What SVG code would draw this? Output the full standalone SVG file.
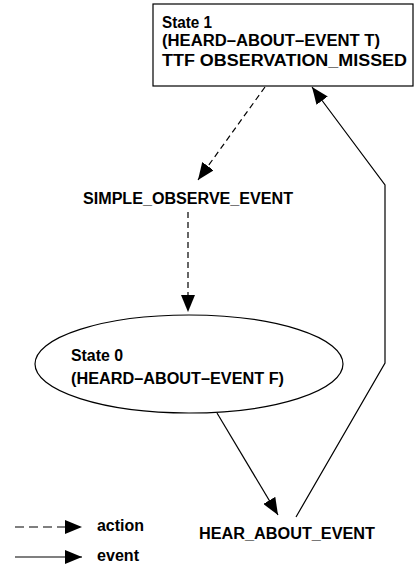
<svg xmlns="http://www.w3.org/2000/svg" width="415" height="566" viewBox="0 0 415 566">
<style>
text{font-family:"Liberation Sans",Arial,sans-serif;font-weight:bold;font-size:16px;fill:#000}
.ln{fill:none;stroke:#000;stroke-width:1.2}
.dash{stroke-dasharray:6,4}
.node{fill:#fff;stroke:#000;stroke-width:1.2}
</style>
<defs>
<marker id="ah" markerUnits="userSpaceOnUse" markerWidth="18" markerHeight="14" refX="17" refY="7" orient="auto">
<path d="M0,0 L17,7 L0,14 Z" fill="#000"/>
</marker>
</defs>
<g id="connectors">
<line class="ln dash" x1="265" y1="87" x2="198" y2="180" marker-end="url(#ah)"/>
<line class="ln dash" x1="188" y1="212" x2="188" y2="312" marker-end="url(#ah)"/>
<line class="ln" x1="217" y1="413" x2="278" y2="515" marker-end="url(#ah)"/>
<polyline class="ln" points="296,517 385,363 385,185 312,87" marker-end="url(#ah)"/>
</g>
<g id="state1">
<rect class="node" x="153" y="4" width="260" height="82"/>
<text x="162" y="28" textLength="50" lengthAdjust="spacingAndGlyphs">State 1</text>
<text x="162" y="46" textLength="218" lengthAdjust="spacingAndGlyphs">(HEARD–ABOUT–EVENT T)</text>
<text x="162" y="66" textLength="245" lengthAdjust="spacingAndGlyphs">TTF OBSERVATION_MISSED</text>
</g>
<g id="simple_observe_event">
<text x="83" y="204" textLength="210" lengthAdjust="spacingAndGlyphs">SIMPLE_OBSERVE_EVENT</text>
</g>
<g id="state0">
<ellipse class="node" cx="189" cy="364" rx="154" ry="49"/>
<text x="71" y="361" textLength="52" lengthAdjust="spacingAndGlyphs">State 0</text>
<text x="71" y="384" textLength="213" lengthAdjust="spacingAndGlyphs">(HEARD–ABOUT–EVENT F)</text>
</g>
<g id="hear_about_event">
<text x="199" y="539" textLength="176" lengthAdjust="spacingAndGlyphs">HEAR_ABOUT_EVENT</text>
</g>
<g id="legend">
<line class="ln" x1="15" y1="527" x2="82" y2="527" stroke-dasharray="9,5" marker-end="url(#ah)"/>
<text x="97" y="531" textLength="47" lengthAdjust="spacingAndGlyphs">action</text>
<line class="ln" x1="15" y1="557" x2="82" y2="557" marker-end="url(#ah)"/>
<text x="97" y="561" textLength="42" lengthAdjust="spacingAndGlyphs">event</text>
</g>
</svg>
